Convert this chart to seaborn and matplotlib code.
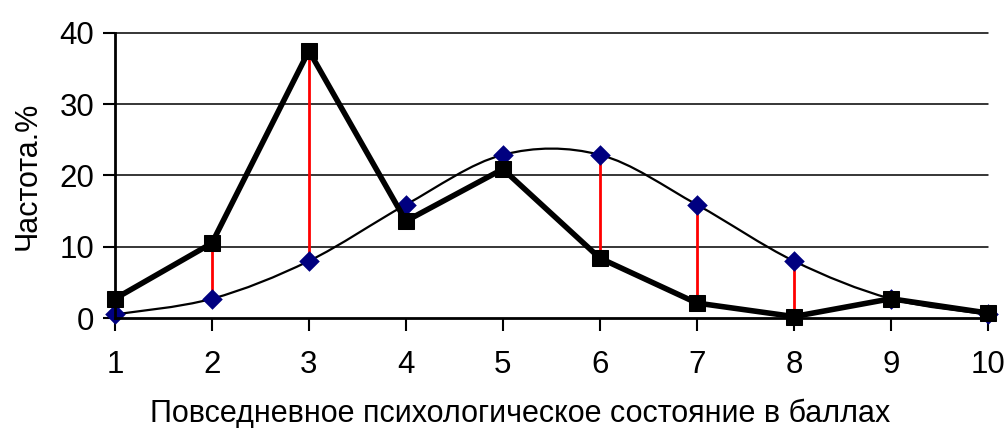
"""
Observed vs. theoretical distribution of everyday psychological state scores.
"""

import matplotlib
matplotlib.use("Agg")
import matplotlib.pyplot as plt
from matplotlib.path import Path
from matplotlib.patches import PathPatch
import pandas as pd
import seaborn as sns


SCORES = [1, 2, 3, 4, 5, 6, 7, 8, 9, 10]
OBSERVED = [2.7, 10.5, 37.5, 13.6, 20.9, 8.4, 2.1, 0.2, 2.7, 0.7]
THEORETICAL = [0.5, 2.7, 8.0, 15.9, 22.9, 22.9, 15.9, 8.0, 2.7, 0.5]
Y_TICKS = [0, 10, 20, 30, 40]
X_LABEL = "Повседневное психологическое состояние в баллах"
Y_LABEL = "Частота.%"


def _smooth_path(xs, ys):
    """Excel-style smoothed line: cubic Bezier segments with Catmull-Rom control points."""
    pts = list(zip(xs, ys))
    verts = [pts[0]]
    codes = [Path.MOVETO]
    n = len(pts)
    for i in range(n - 1):
        p0 = pts[max(i - 1, 0)]
        p1 = pts[i]
        p2 = pts[i + 1]
        p3 = pts[min(i + 2, n - 1)]
        c1 = (p1[0] + (p2[0] - p0[0]) / 6, p1[1] + (p2[1] - p0[1]) / 6)
        c2 = (p2[0] - (p3[0] - p1[0]) / 6, p2[1] - (p3[1] - p1[1]) / 6)
        verts += [c1, c2, p2]
        codes += [Path.CURVE4] * 3
    return Path(verts, codes)


def main() -> None:
    sns.set_style("white")
    plt.rcParams["font.family"] = ["Liberation Sans", "DejaVu Sans"]
    plt.rcParams["text.color"] = "black"
    plt.rcParams["axes.labelcolor"] = "black"

    df = pd.DataFrame({"score": SCORES, "observed": OBSERVED, "theoretical": THEORETICAL})

    fig = plt.figure(figsize=(10.08, 4.28), dpi=100)
    ax = fig.add_axes([0.114, 0.257, 0.866, 0.666])

    # Gridlines
    for y in Y_TICKS[1:]:
        ax.axhline(y, color="black", lw=1.1, zorder=1)

    # Theoretical smoothed curve
    ax.add_patch(PathPatch(_smooth_path(SCORES, THEORETICAL), facecolor="none",
                           edgecolor="black", lw=1.6, zorder=2))

    # Red deviation lines
    ax.vlines(df["score"], df["observed"], df["theoretical"], color="#ff0000", lw=2, zorder=3)

    sns.scatterplot(data=df, x="score", y="theoretical", marker="D", s=110,
                    color="#000080", edgecolor="#000080", linewidth=0, ax=ax, zorder=4)
    sns.lineplot(data=df, x="score", y="observed", color="black", lw=4,
                 marker="s", markersize=11, markeredgecolor="black", ax=ax, zorder=5)

    ax.set_xlim(1, 10)
    ax.set_ylim(0, 40)
    ax.set_xticks(SCORES)
    ax.set_yticks(Y_TICKS)
    ax.tick_params(axis="both", labelsize=22.5, direction="out", color="black",
                   labelcolor="black", width=1.5, length=9, bottom=True, left=True)
    ax.tick_params(axis="x", pad=14)
    ax.tick_params(axis="y", pad=6)

    for side in ["top", "right"]:
        ax.spines[side].set_visible(False)
    for side in ["left", "bottom"]:
        ax.spines[side].set_color("black")
        ax.spines[side].set_linewidth(2)
        ax.spines[side].set_zorder(6)

    ax.set_xlabel(X_LABEL, fontsize=22, va="bottom")
    ax.set_ylabel(Y_LABEL, fontsize=22)
    ax.xaxis.set_label_coords(0.464, -0.39)
    ax.yaxis.set_label_coords(-0.083, 0.5)
    for artist in ax.lines + ax.collections:
        artist.set_clip_on(False)

    fig.savefig("out.png", dpi=100)
    plt.close(fig)


if __name__ == "__main__":
    main()
